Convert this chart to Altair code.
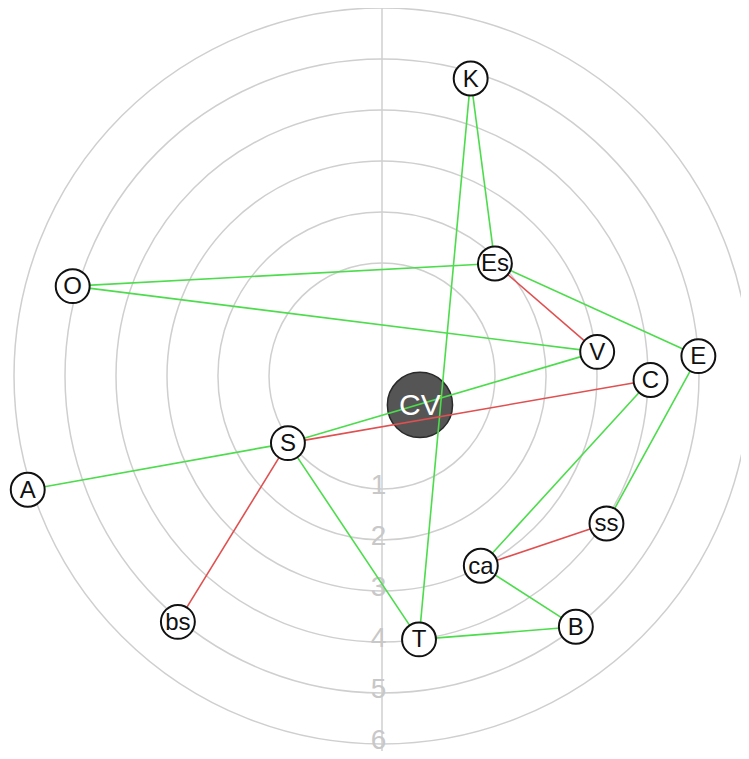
import math
import pandas as pd
import altair as alt

# ---- data ----
node_names = ["CV", "K", "Es", "O", "V", "E", "C", "ss", "ca", "B", "T", "bs", "S", "A"]
node_ring = [-0.28, 4.87, 1.91, 5.1, 3.03, 5.0, 4.05, 4.05, 2.98, 5.0, 4.0, 5.05, 1.05, 6.08]
node_angle = [127.3, 16.6, 45.1, 286.2, 83.6, 86.4, 90.85, 123.3, 152.5, 142.3, 172.0, 219.7, 234.5, 252.2]

edge_from = ["K", "K", "O", "O", "Es", "S", "E", "C", "ca", "B", "S", "S",
             "Es", "S", "ca", "S"]
edge_to = ["Es", "T", "Es", "V", "E", "V", "ss", "ca", "B", "T", "T", "A",
           "V", "C", "ss", "bs"]
edge_sign = ["pos"] * 12 + ["neg"] * 4

ring_levels = [1, 2, 3, 4, 5, 6]

# ---- geometry helpers ----
R0 = 62 / 51          # inner offset of ring 0, in ring units
PX = 51               # pixels per ring unit
W, H = 733, 743
CX, CY = 382 - 8, 376 - 8   # ring centre inside the plot area
xdom = [-CX / PX, (W - CX) / PX]
ydom = [-(H - CY) / PX, CY / PX]
xs = alt.Scale(domain=xdom, nice=False, zero=False)
ys = alt.Scale(domain=ydom, nice=False, zero=False)

pos = {}
rows = []
for n, lv, a in zip(node_names, node_ring, node_angle):
    r = lv + R0
    x = r * math.sin(math.radians(a))
    y = r * math.cos(math.radians(a))
    pos[n] = (x, y)
    rows.append({"name": n, "x": x, "y": y})
nodes_df = pd.DataFrame(rows)

edges_df = pd.DataFrame([
    {"x": pos[a][0], "y": pos[a][1], "x2": pos[b][0], "y2": pos[b][1], "sign": s}
    for a, b, s in zip(edge_from, edge_to, edge_sign)
])

rings_df = pd.DataFrame({"level": ring_levels,
                         "r": [k + R0 for k in ring_levels],
                         "cx": [0.0] * 6, "cy": [0.0] * 6,
                         "ly": [-(k + R0) for k in ring_levels],
                         "lx": [-0.07] * 6})
axis_df = pd.DataFrame({"x": [0.0], "y": [-(6 + R0) - 0.3], "y2": [6 + R0]})

rings = alt.Chart(rings_df).mark_arc(
    filled=False, stroke="#cfcfcf", strokeWidth=1.5, theta=0, theta2=2 * math.pi
).encode(
    x=alt.X("cx:Q", scale=xs, axis=None),
    y=alt.Y("cy:Q", scale=ys, axis=None),
    radius=alt.Radius("r:Q", stack=None,
                      scale=alt.Scale(type="linear", domain=[0, 10], range=[0, 10 * PX], zero=True)),
)

vline = alt.Chart(axis_df).mark_rule(color="#cfcfcf", strokeWidth=1.5).encode(
    x=alt.X("x:Q", scale=xs, axis=None),
    y=alt.Y("y:Q", scale=ys, axis=None),
    y2="y2:Q",
)

ring_labels = alt.Chart(rings_df).mark_text(
    font="Liberation Sans", fontSize=28, color="#c8c8c8", baseline="middle", align="center", dy=-3
).encode(
    x=alt.X("lx:Q", scale=xs, axis=None),
    y=alt.Y("ly:Q", scale=ys, axis=None),
    text="level:N",
)

center_df = nodes_df[nodes_df["name"] == "CV"]
other_df = nodes_df[nodes_df["name"] != "CV"]

cv_circle = alt.Chart(center_df).mark_circle(
    size=4250, color="#555555", opacity=1, stroke="#2a2a2a", strokeWidth=1.5
).encode(
    x=alt.X("x:Q", scale=xs, axis=None),
    y=alt.Y("y:Q", scale=ys, axis=None),
)

edges = alt.Chart(edges_df).mark_rule(strokeWidth=1.6).encode(
    x=alt.X("x:Q", scale=xs, axis=None),
    y=alt.Y("y:Q", scale=ys, axis=None),
    x2="x2:Q",
    y2="y2:Q",
    color=alt.Color("sign:N", scale=alt.Scale(domain=["pos", "neg"], range=["#4cdc4c", "#e05050"]), legend=None),
)

node_circles = alt.Chart(other_df).mark_circle(
    size=1150, color="white", opacity=1, stroke="#111111", strokeWidth=2
).encode(
    x=alt.X("x:Q", scale=xs, axis=None),
    y=alt.Y("y:Q", scale=ys, axis=None),
)

node_text = alt.Chart(other_df).mark_text(
    font="Liberation Sans", fontSize=24, color="#111111", baseline="middle", align="center", dy=1
).encode(
    x=alt.X("x:Q", scale=xs, axis=None),
    y=alt.Y("y:Q", scale=ys, axis=None),
    text="name:N",
)

cv_text = alt.Chart(center_df).mark_text(
    font="Liberation Sans", fontSize=30, color="white", baseline="middle", align="center", dy=1
).encode(
    x=alt.X("x:Q", scale=xs, axis=None),
    y=alt.Y("y:Q", scale=ys, axis=None),
    text="name:N",
)

chart = alt.layer(
    rings, vline, ring_labels, cv_circle, edges, node_circles, node_text, cv_text
).properties(
    width=W, height=H, padding=0, autosize=alt.AutoSizeParams(type="none"),
    background="white",
).configure_view(stroke=None)

chart.save("out.html", embed_options={"renderer": "svg", "actions": False})
